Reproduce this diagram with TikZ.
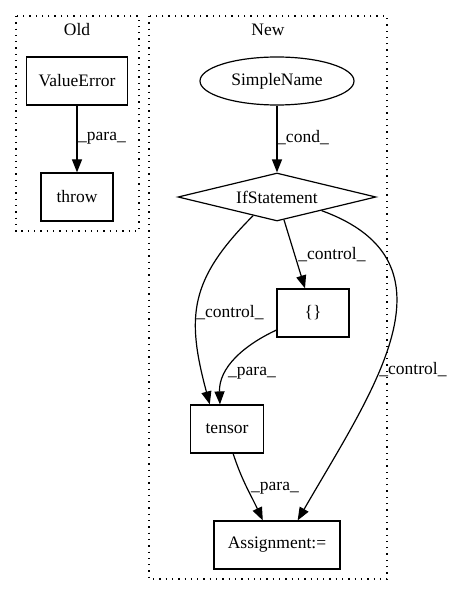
\documentclass[tikz,border=0pt]{standalone}
\usepackage{fontspec}
\setmainfont{Liberation Serif}
\usetikzlibrary{calc,shapes.geometric,arrows.meta}
\tikzset{
  box/.style={draw, line width=1.2pt, inner sep=0pt, minimum height=48},
  lbl/.style={inner sep=0pt},
  edge/.style={line width=1.2pt, -{Triangle[length=13pt,width=10pt]}},
  clus/.style={line width=1.2pt, dash pattern=on 1.3pt off 5pt}
}
\begin{document}
\begin{tikzpicture}[x=1pt,y=-1pt,font=\fontsize{17.5}{21}\selectfont]
\useasboundingbox (0,0) rectangle (455,596);
\draw [clus] (16,16) rectangle (139,231);
\draw [clus] (149,16) rectangle (387,579);
\node [lbl] (old) at (77,30) {Old};
\node [lbl] (new) at (268,30) {New};
\node [box, minimum width=101] (ve) at (77,81) {ValueError};
\node [box, minimum width=72] (th) at (77,197) {throw};
\node [draw, ellipse, line width=1.2pt, inner sep=0pt, minimum width=154, minimum height=48] (sn) at (277,81) {SimpleName};
\node [draw, diamond, shape aspect=4, line width=1.2pt, inner sep=0pt, minimum width=198, minimum height=48] (ifs) at (277,197) {IfStatement};
\node [box, minimum width=72] (br) at (313,313) {\{\}};
\node [box, minimum width=73] (te) at (227,429) {tensor};
\node [box, minimum width=126] (as) at (277,545) {Assignment:=};
\draw [edge] (ve) -- (th);
\node [lbl] (l1) at (102,138) {\_para\_};
\draw [edge] (sn) -- (ifs);
\node [lbl] (l2) at (303,138) {\_cond\_};
\draw [edge] (ifs.-73) -- (br.108);
\node [lbl] (l3) at (332,255) {\_control\_};
\draw [edge] (ifs.-142) to [out=-135,in=105,looseness=1.2] (te.125);
\node [lbl] (l4) at (230,313) {\_control\_};
\draw [edge] (br.-155) to [out=-155,in=92] (te.106);
\node [lbl] (l5) at (252,373) {\_para\_};
\draw [edge] (ifs.-17) to [out=-20,in=60,looseness=1.25] (as.50);
\node [lbl] (l6) at (413,370) {\_control\_};
\draw [edge] (te.-76) to [out=-72,in=115] (as.120);
\node [lbl] (l7) at (275,488) {\_para\_};
\end{tikzpicture}
\end{document}
